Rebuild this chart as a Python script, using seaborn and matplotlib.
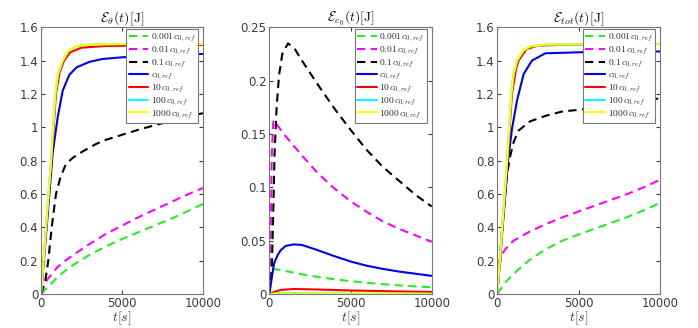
import matplotlib
matplotlib.use("Agg")
import matplotlib.pyplot as plt
import seaborn as sns

# ---------------- data ----------------
labels = ["$0.001\\,c_{0,ref}$", "$0.01\\,c_{0,ref}$", "$0.1\\,c_{0,ref}$", "$c_{0,ref}$",
          "$10\\,c_{0,ref}$", "$100\\,c_{0,ref}$", "$1000\\,c_{0,ref}$"]
titles = ["$\\mathcal{E}_{\\theta}(t)[\\mathrm{J}]$", "$\\mathcal{E}_{c_0}(t)[\\mathrm{J}]$",
          "$\\mathcal{E}_{tot}(t)[\\mathrm{J}]$"]

# Panel 1: E_theta
th_t_green = [0, 500, 1000, 1500, 2000, 3000, 4000, 5000, 6000, 7000, 8000, 9000, 10000]
th_green = [0, 0.05, 0.10, 0.14, 0.175, 0.235, 0.285, 0.33, 0.37, 0.41, 0.45, 0.495, 0.54]
th_t_mag = [0, 200, 500, 1000, 1500, 2000, 3000, 4000, 5000, 6000, 7000, 8000, 9000, 10000]
th_mag = [0, 0.06, 0.10, 0.16, 0.20, 0.235, 0.30, 0.36, 0.41, 0.46, 0.505, 0.55, 0.595, 0.636]
th_t_black = [0, 250, 450, 660, 925, 1200, 1540, 2000, 2570, 3400, 4000, 5000, 6000, 7000, 8000, 9000, 10000]
th_black = [0, 0.07, 0.2, 0.4, 0.6, 0.70, 0.78, 0.82, 0.855, 0.90, 0.925, 0.955, 0.985, 1.012, 1.037, 1.061, 1.085]
th_t_blue = [0, 350, 720, 1030, 1340, 1750, 2200, 3000, 3800, 5000, 7000, 10000]
th_blue = [0, 0.40, 0.845, 1.06, 1.22, 1.315, 1.36, 1.393, 1.41, 1.42, 1.43, 1.44]
th_t_red = [0, 320, 640, 920, 1150, 1420, 1800, 2500, 4000, 10000]
th_red = [0, 0.40, 0.80, 1.20, 1.33, 1.40, 1.45, 1.478, 1.488, 1.495]
th_t_cyan = [0, 310, 620, 880, 1050, 1340, 1700, 2200, 3000, 5000, 10000]
th_cyan = [0, 0.40, 0.80, 1.20, 1.32, 1.40, 1.46, 1.487, 1.496, 1.499, 1.5]
th_t_yellow = [0, 310, 620, 880, 1050, 1340, 1700, 2200, 3000, 5000, 10000]
th_yellow = [0, 0.40, 0.80, 1.20, 1.32, 1.40, 1.46, 1.488, 1.497, 1.5, 1.5]

# Panel 2: E_c0
c_t_green = [0, 50, 500, 1000, 2000, 3000, 4000, 5000, 6000, 7000, 8000, 9000, 10000]
c_green = [0, 0.024, 0.023, 0.0215, 0.0185, 0.016, 0.0138, 0.012, 0.0105, 0.0092, 0.0081, 0.0071, 0.0063]
c_t_mag = [0, 80, 150, 250, 500, 1000, 2000, 3000, 4000, 5000, 6000, 7000, 8000, 9000, 10000]
c_mag = [0, 0.05, 0.13, 0.163, 0.158, 0.148, 0.13, 0.113, 0.099, 0.087, 0.077, 0.068, 0.061, 0.055, 0.049]
c_t_black = [0, 150, 250, 320, 450, 600, 800, 1150, 1600, 2000, 3000, 4000, 5000, 6000, 7000, 8000, 9000, 10000]
c_black = [0, 0.02, 0.08, 0.13, 0.175, 0.205, 0.225, 0.235, 0.229, 0.219, 0.196, 0.174, 0.154, 0.135, 0.119, 0.106, 0.093, 0.082]
c_t_blue = [0, 150, 300, 500, 700, 1000, 1500, 2000, 3000, 4000, 5000, 6000, 7000, 8000, 9000, 10000]
c_blue = [0, 0.015, 0.029, 0.036, 0.041, 0.045, 0.0465, 0.046, 0.041, 0.0355, 0.0305, 0.0265, 0.0235, 0.021, 0.019, 0.017]
c_t_red = [0, 300, 700, 1500, 3000, 5000, 7000, 10000]
c_red = [0, 0.002, 0.0038, 0.0047, 0.0042, 0.0033, 0.0027, 0.0019]
c_t_cyan = [0, 500, 1500, 5000, 10000]
c_cyan = [0, 0.0008, 0.0007, 0.0004, 0.0003]
c_t_yellow = [0, 500, 1500, 5000, 10000]
c_yellow = [0, 0.0003, 0.0003, 0.0002, 0.0001]

# Panel 3: E_tot
tot_t_green = [0, 500, 1000, 1500, 2000, 3000, 4000, 5000, 6000, 7000, 8000, 9000, 10000]
tot_green = [0, 0.07, 0.12, 0.165, 0.205, 0.27, 0.32, 0.357, 0.392, 0.427, 0.462, 0.502, 0.546]
tot_t_mag = [0, 100, 250, 500, 1000, 2000, 3000, 4000, 5000, 6000, 7000, 8000, 9000, 10000]
tot_mag = [0, 0.15, 0.23, 0.27, 0.32, 0.375, 0.42, 0.46, 0.495, 0.53, 0.565, 0.60, 0.64, 0.685]
tot_t_black = [0, 300, 600, 800, 1000, 1300, 2000, 3000, 4000, 5000, 6000, 7000, 8000, 9000, 10000]
tot_black = [0, 0.40, 0.72, 0.83, 0.91, 0.98, 1.035, 1.07, 1.095, 1.105, 1.118, 1.132, 1.146, 1.16, 1.174]
tot_t_blue = [0, 330, 660, 900, 1210, 1620, 2130, 2950, 5000, 10000]
tot_blue = [0, 0.40, 0.80, 0.99, 1.16, 1.32, 1.40, 1.444, 1.45, 1.455]
tot_t_red = [0, 310, 620, 900, 1150, 1300, 1800, 2500, 4000, 10000]
tot_red = [0, 0.40, 0.80, 1.20, 1.35, 1.40, 1.47, 1.49, 1.495, 1.5]
tot_t_cyan = [0, 300, 600, 860, 1000, 1210, 1600, 2000, 3000, 10000]
tot_cyan = [0, 0.40, 0.80, 1.20, 1.32, 1.40, 1.46, 1.484, 1.496, 1.5]
tot_t_yellow = [0, 300, 600, 860, 1000, 1210, 1600, 2000, 3000, 10000]
tot_yellow = [0, 0.40, 0.80, 1.20, 1.32, 1.40, 1.46, 1.485, 1.497, 1.5]

x_ticks = [0, 5000, 10000]
y_ticks_energy = [0, 0.2, 0.4, 0.6, 0.8, 1.0, 1.2, 1.4, 1.6]
y_ticklabels_energy = ["0", "0.2", "0.4", "0.6", "0.8", "1", "1.2", "1.4", "1.6"]
y_ticks_c0 = [0, 0.05, 0.1, 0.15, 0.2, 0.25]
y_ticklabels_c0 = ["0", "0.05", "0.1", "0.15", "0.2", "0.25"]

# ---------------- styling ----------------
sns.set_style("ticks")
plt.rcParams["font.family"] = ["DejaVu Sans"]
plt.rcParams["mathtext.fontset"] = "cm"

colors = ["#22ee22", "#ff00ff", "#000000", "#0000ee", "#ff0000", "#00ffff", "#ffff00"]
dashed = [True, True, True, False, False, False, False]
grey = "#3a3a3a"

fig = plt.figure(figsize=(6.98, 3.28), dpi=100)
positions = [
    [41 / 698, 34 / 328, 162 / 698, 266.7 / 328],
    [269.3 / 698, 34 / 328, 162.4 / 698, 266.7 / 328],
    [497.3 / 698, 34 / 328, 162.7 / 698, 266.7 / 328],
]

panels = [
    [(th_t_green, th_green), (th_t_mag, th_mag), (th_t_black, th_black), (th_t_blue, th_blue),
     (th_t_red, th_red), (th_t_cyan, th_cyan), (th_t_yellow, th_yellow)],
    [(c_t_green, c_green), (c_t_mag, c_mag), (c_t_black, c_black), (c_t_blue, c_blue),
     (c_t_red, c_red), (c_t_cyan, c_cyan), (c_t_yellow, c_yellow)],
    [(tot_t_green, tot_green), (tot_t_mag, tot_mag), (tot_t_black, tot_black), (tot_t_blue, tot_blue),
     (tot_t_red, tot_red), (tot_t_cyan, tot_cyan), (tot_t_yellow, tot_yellow)],
]

for i, (pos, series) in enumerate(zip(positions, panels)):
    ax = fig.add_axes(pos)
    for (tt, vv), col, dsh, lab in zip(series, colors, dashed, labels):
        ls = (0, (4, 2.6)) if dsh else "-"
        sns.lineplot(x=tt, y=vv, ax=ax, color=col, linewidth=1.5, linestyle=ls,
                     label=lab, sort=False)
    ax.set_xlim(0, 10000)
    ax.set_xticks(x_ticks)
    ax.set_xticklabels([str(v) for v in x_ticks])
    if i == 1:
        ax.set_ylim(0, 0.25)
        ax.set_yticks(y_ticks_c0)
        ax.set_yticklabels(y_ticklabels_c0)
    else:
        ax.set_ylim(0, 1.6)
        ax.set_yticks(y_ticks_energy)
        ax.set_yticklabels(y_ticklabels_energy)
    ax.tick_params(direction="in", length=3, width=0.8, colors=grey, labelsize=8.5,
                   top=True, right=True, pad=2)
    for sp in ax.spines.values():
        sp.set_color("#777777")
        sp.set_linewidth(0.8)
    ax.set_title(titles[i], fontsize=10, pad=4, color="#111111")
    ax.set_xlabel("$t[s]$", fontsize=10, color=grey, labelpad=0)
    ax.set_ylabel("")
    leg = ax.legend(loc="upper right", bbox_to_anchor=(1 - 5 / 162, 1 - 2 / 267),
                    borderaxespad=0, fontsize=6.8, handlelength=2.1, handletextpad=0.25,
                    labelspacing=0.0, borderpad=0.25, fancybox=False, framealpha=1,
                    edgecolor="#777777")
    leg.get_frame().set_linewidth(0.8)

fig.savefig("out.png", dpi=100)
